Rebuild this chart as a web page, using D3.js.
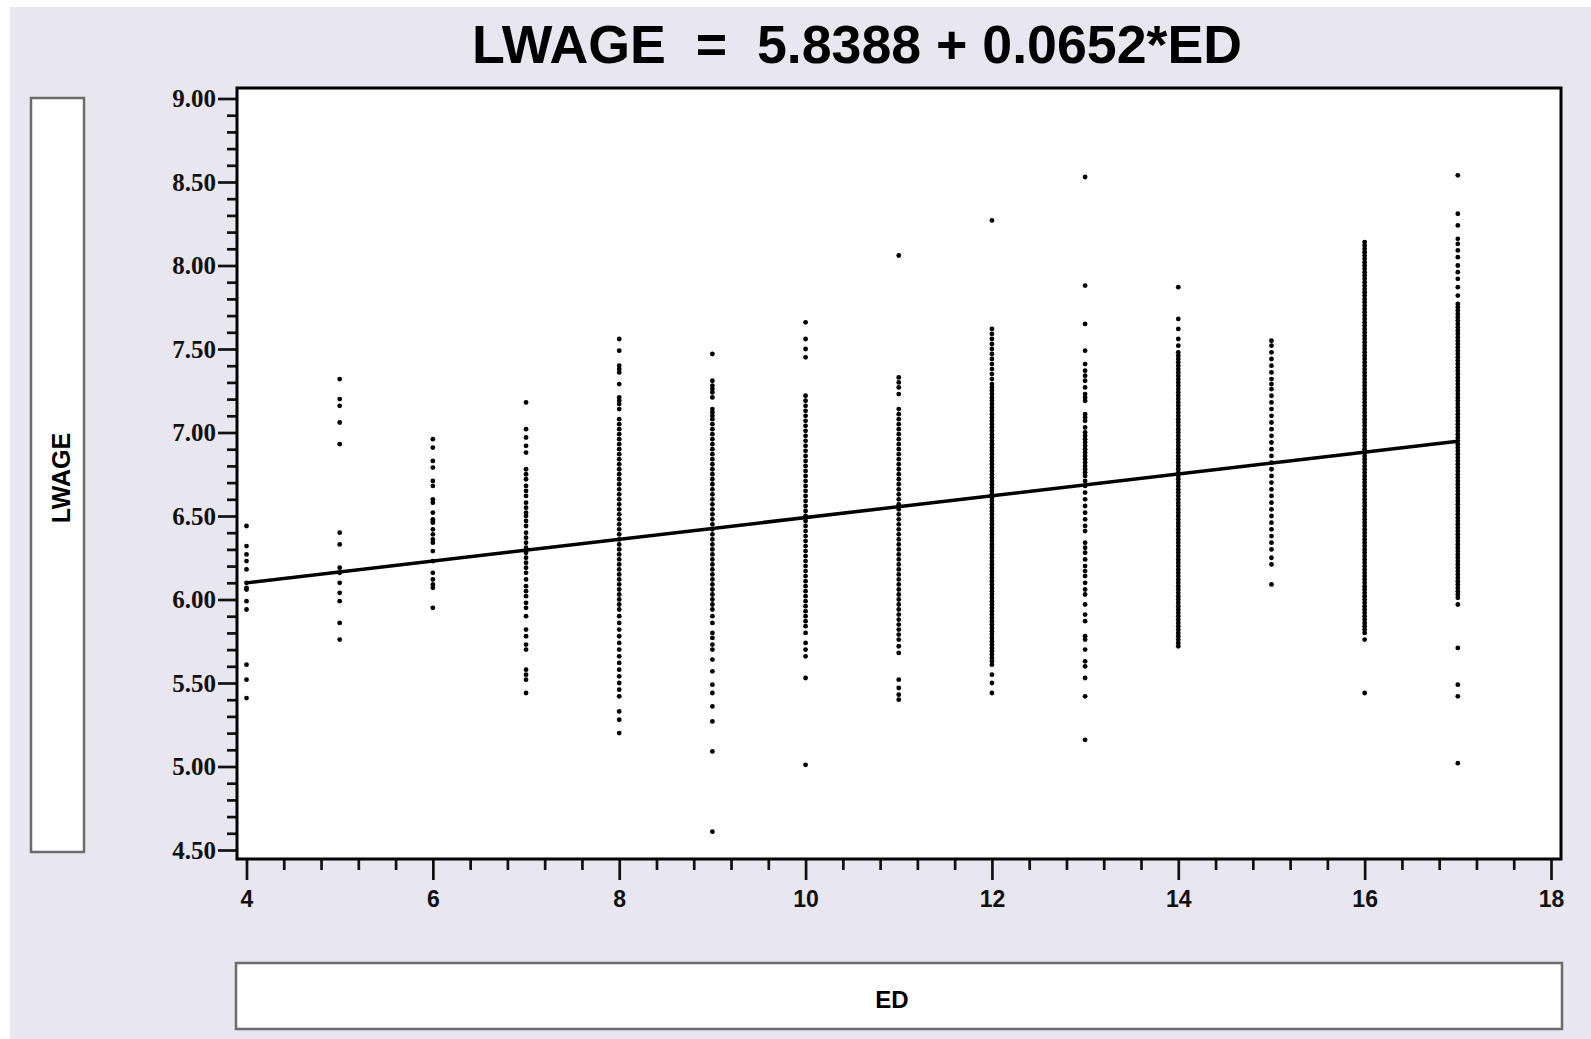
<!DOCTYPE html>
<html>
<head>
<meta charset="utf-8">
<script src="https://cdn.jsdelivr.net/npm/d3@7"></script>
<style>
  body { margin: 0; background: #fff; }
  .axis text { font-weight: bold; fill: #111; }
  .axis--y text { font-family: "Liberation Serif", "Times New Roman", serif; font-size: 25px; }
  .axis--x text { font-family: "Liberation Sans", Arial, sans-serif; font-size: 23px; }
  .axis line { stroke: #111; stroke-width: 2.7px; }
  .axis path { display: none; }
</style>
</head>
<body>
<svg width="1591" height="1039"></svg>
<script>
// fitted line from the title
const intercept = 5.8388, slope = 0.0652;
const titleText = 'LWAGE  =  5.8388 + 0.0652*ED';

const xTicks = [4, 6, 8, 10, 12, 14, 16, 18];
const yTicks = [4.5, 5, 5.5, 6, 6.5, 7, 7.5, 8, 8.5, 9];

// LWAGE observations, one array per years of education
const lwageEd4 = [6.44, 6.32, 6.27, 6.23, 6.18, 6.10, 6.07, 6.06, 5.99, 5.94, 5.61, 5.52, 5.41];
const lwageEd5 = [7.32, 7.20, 7.16, 7.06, 6.93, 6.40, 6.33, 6.19, 6.16, 6.10, 6.04, 5.99, 5.86, 5.76];
const lwageEd6 = [6.96, 6.91, 6.83, 6.79, 6.71, 6.68, 6.60, 6.58, 6.52, 6.48, 6.47, 6.46, 6.42, 6.39, 6.36,
  6.34, 6.29, 6.23, 6.16, 6.12, 6.09, 6.07, 5.95];
const lwageEd7 = [7.18, 7.02, 6.97, 6.92, 6.88, 6.78, 6.75, 6.72, 6.68, 6.65, 6.62, 6.58, 6.55, 6.52, 6.50,
  6.47, 6.44, 6.40, 6.37, 6.34, 6.31, 6.28, 6.25, 6.22, 6.19, 6.16, 6.12, 6.08, 6.05, 6.02, 5.98, 5.95,
  5.90, 5.82, 5.78, 5.73, 5.70, 5.58, 5.55, 5.52, 5.44];
const lwageEd8 = [7.56, 7.49, 7.40, 7.38, 7.36, 7.29, 7.21, 7.19, 7.17, 7.14, 7.08, 7.05, 7.02, 6.99, 6.96,
  6.93, 6.90, 6.87, 6.84, 6.81, 6.78, 6.75, 6.72, 6.69, 6.66, 6.63, 6.60, 6.57, 6.54, 6.51, 6.48, 6.45,
  6.42, 6.39, 6.36, 6.33, 6.30, 6.27, 6.24, 6.21, 6.18, 6.15, 6.12, 6.09, 6.06, 6.03, 6.00, 5.97, 5.94,
  5.90, 5.86, 5.82, 5.78, 5.74, 5.70, 5.66, 5.62, 5.58, 5.54, 5.50, 5.46, 5.42, 5.33, 5.28, 5.20];
const lwageEd9 = [7.47, 7.31, 7.28, 7.26, 7.24, 7.21, 7.14, 7.12, 7.10, 7.08, 7.05, 7.02, 6.99, 6.96, 6.93,
  6.90, 6.87, 6.84, 6.81, 6.78, 6.75, 6.72, 6.69, 6.66, 6.63, 6.60, 6.57, 6.54, 6.51, 6.48, 6.45, 6.42,
  6.39, 6.36, 6.33, 6.30, 6.27, 6.24, 6.21, 6.18, 6.15, 6.12, 6.09, 6.06, 6.03, 6.00, 5.97, 5.94, 5.90,
  5.86, 5.80, 5.77, 5.73, 5.70, 5.64, 5.57, 5.49, 5.44, 5.36, 5.27, 5.09, 4.61];
const lwageEd10 = [7.66, 7.56, 7.50, 7.45, 7.22, 7.19, 7.16, 7.13, 7.10, 7.07, 7.04, 7.01, 6.98, 6.95, 6.92,
  6.89, 6.86, 6.83, 6.80, 6.77, 6.74, 6.71, 6.68, 6.65, 6.62, 6.59, 6.56, 6.53, 6.50, 6.47, 6.44, 6.41,
  6.38, 6.35, 6.32, 6.29, 6.26, 6.23, 6.20, 6.17, 6.14, 6.11, 6.08, 6.05, 6.02, 5.99, 5.96, 5.93, 5.90,
  5.87, 5.84, 5.80, 5.74, 5.70, 5.66, 5.53, 5.01];
const lwageEd11 = [8.06, 7.33, 7.30, 7.27, 7.23, 7.14, 7.11, 7.08, 7.05, 7.02, 6.99, 6.96, 6.93, 6.90, 6.87,
  6.84, 6.81, 6.78, 6.75, 6.72, 6.69, 6.66, 6.63, 6.60, 6.57, 6.54, 6.51, 6.48, 6.45, 6.42, 6.39, 6.36,
  6.33, 6.30, 6.27, 6.24, 6.21, 6.18, 6.15, 6.12, 6.09, 6.06, 6.03, 6.00, 5.97, 5.94, 5.91, 5.88, 5.85,
  5.82, 5.79, 5.76, 5.72, 5.68, 5.52, 5.47, 5.43, 5.40];
const lwageEd12 = [8.27, 7.62, 7.59, 7.56, 7.53, 7.50, 7.47, 7.44, 7.41, 7.38, 7.35, 7.32, 7.29,
  7.27, 7.25, 7.23, 7.21, 7.19, 7.17, 7.15, 7.13, 7.11, 7.09, 7.07, 7.05, 7.03, 7.01, 6.99, 6.97, 6.95,
  6.93, 6.91, 6.89, 6.87, 6.85, 6.83, 6.81, 6.79, 6.77, 6.75, 6.73, 6.71, 6.69, 6.67, 6.65, 6.63, 6.61,
  6.59, 6.57, 6.55, 6.53, 6.51, 6.49, 6.47, 6.45, 6.43, 6.41, 6.39, 6.37, 6.35, 6.33, 6.31, 6.29, 6.27,
  6.25, 6.23, 6.21, 6.19, 6.17, 6.15, 6.13, 6.11, 6.09, 6.07, 6.05, 6.03, 6.01, 5.99, 5.97, 5.95, 5.93,
  5.91, 5.89, 5.87, 5.85, 5.83, 5.81, 5.79, 5.77, 5.75, 5.73, 5.71, 5.69, 5.67, 5.65, 5.63, 5.61, 5.55,
  5.50, 5.44];
const lwageEd13 = [8.53, 7.88, 7.65, 7.49, 7.41, 7.37, 7.34, 7.31, 7.27, 7.23, 7.21, 7.19, 7.11, 7.09, 7.07,
  7.03, 7.00, 6.98, 6.96, 6.94, 6.92, 6.90, 6.88, 6.86, 6.84, 6.82, 6.80, 6.78, 6.76, 6.74, 6.71, 6.68,
  6.64, 6.60, 6.56, 6.52, 6.48, 6.44, 6.41, 6.34, 6.31, 6.28, 6.24, 6.20, 6.17, 6.14, 6.10, 6.06, 6.03,
  5.97, 5.91, 5.87, 5.78, 5.76, 5.70, 5.63, 5.60, 5.53, 5.42, 5.16];
const lwageEd14 = [7.87, 7.68, 7.62, 7.56, 7.52, 7.48, 7.46, 7.44, 7.42, 7.40, 7.38, 7.36, 7.34, 7.32, 7.30,
  7.28, 7.26, 7.24, 7.22, 7.20, 7.18, 7.16, 7.14, 7.12, 7.10, 7.08, 7.06, 7.04, 7.02, 7.00, 6.98, 6.96,
  6.94, 6.92, 6.90, 6.88, 6.86, 6.84, 6.82, 6.80, 6.78, 6.76, 6.74, 6.72, 6.70, 6.68, 6.66, 6.64, 6.62,
  6.60, 6.58, 6.56, 6.54, 6.52, 6.50, 6.48, 6.46, 6.44, 6.42, 6.40, 6.38, 6.36, 6.34, 6.32, 6.30, 6.28,
  6.26, 6.24, 6.22, 6.20, 6.18, 6.16, 6.14, 6.12, 6.10, 6.08, 6.06, 6.04, 6.02, 6.00, 5.98, 5.96, 5.94,
  5.92, 5.90, 5.88, 5.86, 5.84, 5.82, 5.80, 5.78, 5.76, 5.74, 5.72];
const lwageEd15 = [7.55, 7.52, 7.48, 7.44, 7.40, 7.36, 7.32, 7.29, 7.26, 7.22, 7.18, 7.14, 7.10, 7.06, 7.02,
  6.98, 6.94, 6.90, 6.86, 6.82, 6.78, 6.74, 6.70, 6.66, 6.62, 6.58, 6.54, 6.50, 6.46, 6.42, 6.38, 6.34,
  6.30, 6.25, 6.21, 6.09];
const lwageEd16 = [8.14, 8.12, 8.10, 8.08, 8.06, 8.04, 8.02, 8.00, 7.98, 7.96, 7.94, 7.92, 7.90, 7.88, 7.86,
  7.84, 7.82, 7.80, 7.78, 7.76, 7.74, 7.72, 7.70, 7.68, 7.66, 7.64, 7.62, 7.60, 7.58, 7.56, 7.54, 7.52,
  7.50, 7.48, 7.46, 7.44, 7.42, 7.40, 7.38, 7.36, 7.34, 7.32, 7.30, 7.28, 7.26, 7.24, 7.22, 7.20, 7.18,
  7.16, 7.14, 7.12, 7.10, 7.08, 7.06, 7.04, 7.02, 7.00, 6.98, 6.96, 6.94, 6.92, 6.90, 6.88, 6.86, 6.84,
  6.82, 6.80, 6.78, 6.76, 6.74, 6.72, 6.70, 6.68, 6.66, 6.64, 6.62, 6.60, 6.58, 6.56, 6.54, 6.52, 6.50,
  6.48, 6.46, 6.44, 6.42, 6.40, 6.38, 6.36, 6.34, 6.32, 6.30, 6.28, 6.26, 6.24, 6.22, 6.20, 6.18, 6.16,
  6.14, 6.12, 6.10, 6.08, 6.06, 6.04, 6.02, 6.00, 5.98, 5.96, 5.94, 5.92, 5.90, 5.88, 5.86, 5.84, 5.82,
  5.80, 5.76, 5.44];
const lwageEd17 = [8.54, 8.31, 8.24, 8.16, 8.13, 8.09, 8.05, 8.00, 7.96, 7.92, 7.87, 7.82, 7.77, 7.75, 7.73,
  7.71, 7.69, 7.67, 7.65, 7.63, 7.61, 7.59, 7.57, 7.55, 7.53, 7.51, 7.49, 7.47, 7.45, 7.43, 7.41, 7.39,
  7.37, 7.35, 7.33, 7.31, 7.29, 7.27, 7.25, 7.23, 7.21, 7.19, 7.17, 7.15, 7.13, 7.11, 7.09, 7.07, 7.05,
  7.03, 7.01, 6.99, 6.97, 6.95, 6.93, 6.91, 6.89, 6.87, 6.85, 6.83, 6.81, 6.79, 6.77, 6.75, 6.73, 6.71,
  6.69, 6.67, 6.65, 6.63, 6.61, 6.59, 6.57, 6.55, 6.53, 6.51, 6.49, 6.47, 6.45, 6.43, 6.41, 6.39, 6.37,
  6.35, 6.33, 6.31, 6.29, 6.27, 6.25, 6.23, 6.21, 6.19, 6.17, 6.15, 6.13, 6.11, 6.09, 6.07, 6.05, 6.03,
  6.01, 5.97, 5.71, 5.49, 5.42, 5.02];

const columns = [
  [4, lwageEd4], [5, lwageEd5], [6, lwageEd6], [7, lwageEd7], [8, lwageEd8], [9, lwageEd9],
  [10, lwageEd10], [11, lwageEd11], [12, lwageEd12], [13, lwageEd13], [14, lwageEd14],
  [15, lwageEd15], [16, lwageEd16], [17, lwageEd17]
];
const points = [];
columns.forEach(([ed, vals]) => vals.forEach(v => points.push({ed: ed, lwage: v})));

let svg = d3.select('svg');

const frame = {left: 237, top: 88, right: 1561, bottom: 859};

// grey page behind everything
svg.append('rect')
    .attr('x', 10).attr('y', 7)
    .attr('width', 1591).attr('height', 1039)
    .attr('fill', '#e8e6ee');

let x = d3.scaleLinear().domain([4, 18]).range([246.5, 1551]),
    y = d3.scaleLinear().domain([4.5, 9]).range([850, 98.5]);

svg.append('text')
    .attr('x', 472).attr('y', 63)
    .style('white-space', 'pre')
    .attr('font-family', '"Liberation Sans", Arial, sans-serif')
    .attr('font-weight', 'bold')
    .attr('font-size', 53.7)
    .attr('fill', '#000')
    .text(titleText);

// label boxes
svg.append('rect')
    .attr('x', 31).attr('y', 98).attr('width', 53).attr('height', 754)
    .attr('fill', '#fff').attr('stroke', '#6b6b6b').attr('stroke-width', 2.5);
svg.append('text')
    .attr('transform', 'translate(70, 478) rotate(-90)')
    .attr('text-anchor', 'middle')
    .attr('font-family', '"Liberation Sans", Arial, sans-serif')
    .attr('font-weight', 'bold').attr('font-size', 25)
    .text('LWAGE');

svg.append('rect')
    .attr('x', 236).attr('y', 963).attr('width', 1326).attr('height', 66)
    .attr('fill', '#fff').attr('stroke', '#6b6b6b').attr('stroke-width', 2.5);
svg.append('text')
    .attr('x', 892).attr('y', 1008)
    .attr('text-anchor', 'middle')
    .attr('font-family', '"Liberation Sans", Arial, sans-serif')
    .attr('font-weight', 'bold').attr('font-size', 24)
    .text('ED');

svg.append('rect')
    .attr('x', frame.left).attr('y', frame.top)
    .attr('width', frame.right - frame.left).attr('height', frame.bottom - frame.top)
    .attr('fill', '#fff');

// minor ticks first, majors on top
const xMinor = d3.range(40, 181, 4).map(d => d / 10).filter(d => xTicks.indexOf(d) < 0);
const yMinor = d3.range(45, 91, 1).map(d => d / 10).filter(d => yTicks.indexOf(d) < 0);

svg.append('g')
    .attr('class', 'axis axis--x')
    .attr('transform', `translate(0, ${frame.bottom})`)
    .call(d3.axisBottom(x).tickValues(xMinor).tickSize(11).tickFormat(''));
svg.append('g')
    .attr('class', 'axis axis--x')
    .attr('transform', `translate(0, ${frame.bottom})`)
    .call(d3.axisBottom(x).tickValues(xTicks).tickSize(21).tickPadding(11).tickFormat(d3.format('d')));

svg.append('g')
    .attr('class', 'axis axis--y')
    .attr('transform', `translate(${frame.left}, 0)`)
    .call(d3.axisLeft(y).tickValues(yMinor).tickSize(10).tickFormat(''));
svg.append('g')
    .attr('class', 'axis axis--y')
    .attr('transform', `translate(${frame.left}, 0)`)
    .call(d3.axisLeft(y).tickValues(yTicks).tickSize(19).tickPadding(2).tickFormat(d3.format('.2f')));

svg.append('g')
    .attr('class', 'dots')
    .selectAll('circle')
    .data(points)
    .enter().append('circle')
      .attr('cx', d => x(d.ed))
      .attr('cy', d => y(d.lwage))
      .attr('r', 2.4)
      .attr('fill', '#000');

const fitEnds = [4, 17];
svg.append('path')
    .datum(fitEnds)
    .attr('d', d3.line().x(d => x(d)).y(d => y(intercept + slope * d)))
    .attr('stroke', '#000').attr('stroke-width', 3.5).attr('fill', 'none');

svg.append('rect')
    .attr('x', frame.left).attr('y', frame.top)
    .attr('width', frame.right - frame.left).attr('height', frame.bottom - frame.top)
    .attr('fill', 'none').attr('stroke', '#000').attr('stroke-width', 3);
</script>
</body>
</html>
